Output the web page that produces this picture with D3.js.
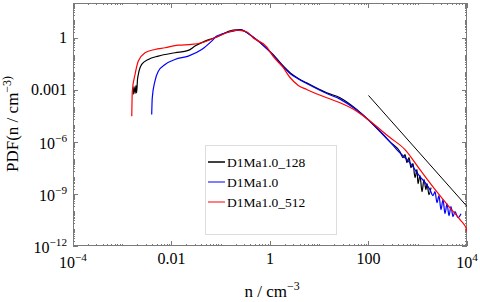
<!DOCTYPE html>
<html>
<head>
<script src="https://cdn.jsdelivr.net/npm/d3@7/dist/d3.min.js"></script>
<style>
  body { margin: 0; background: #fff; }
  text { font-family: "Liberation Serif", "Times New Roman", serif; fill: #000; }
</style>
</head>
<body>
<script>
// ---- data ----
var seriesNames = ["D1Ma1.0_128", "D1Ma1.0", "D1Ma1.0_512"];

var n128 = [1.67e-3, 1.73e-3, 1.82e-3, 1.9e-3, 1.96e-3, 2.04e-3, 2.12e-3, 2.48e-3, 3.38e-3, 5.4e-3, 0.0118, 0.0219, 0.030, 0.048, 0.076, 0.18, 0.246, 0.452, 0.857, 1.15, 1.73, 2.55, 3.76, 5.56, 14.2, 26.4, 57.6, 97.7, 273, 436, 502, 551, 605, 664, 729, 801, 880, 966, 1010, 1110, 1220, 1340, 1470, 1540, 1690, 1860];
var p128 = [5.3e-4, 1.55e-3, 6.1e-4, 1.77e-3, 6.7e-4, 3.9e-3, 7.6e-3, 0.0288, 0.056, 0.087, 0.136, 0.185, 0.33, 0.64, 1.0, 2.75, 2.9, 1.1, 0.24, 0.109, 0.0288, 9.6e-3, 4.5e-3, 2.5e-3, 6.7e-4, 3.45e-4, 7.3e-5, 1.93e-5, 1.0e-6, 2.7e-7, 1.24e-7, 1.85e-7, 6.4e-8, 1.24e-7, 3.3e-8, 5.6e-8, 8.7e-9, 2.5e-8, 3.9e-9, 1.13e-8, 1.35e-9, 6.7e-9, 1.76e-9, 3.9e-9, 9.1e-10, 2.3e-9];

var n256 = [3.96e-3, 4.07e-3, 4.6e-3, 5.4e-3, 7.4e-3, 0.0118, 0.0219, 0.041, 0.0655, 0.083, 0.18, 0.246, 0.452, 0.857, 1.15, 1.73, 2.55, 3.76, 5.56, 14.2, 26.4, 57.6, 97.7, 273, 374, 697, 1110, 1470, 1770, 2040, 2240, 2460, 2700, 2960, 3260, 3570, 3930, 4310, 4730, 5200, 5700, 6560, 7550];
var p256 = [3.75e-5, 3.45e-4, 3.1e-3, 0.0118, 0.0288, 0.056, 0.087, 0.21, 0.64, 1.24, 2.4, 2.8, 1.1, 0.24, 0.10, 0.027, 8.7e-3, 4.2e-3, 2.3e-3, 6.1e-4, 2.9e-4, 6.8e-5, 1.93e-5, 1.0e-6, 3.6e-7, 6.1e-8, 1.0e-8, 3.9e-9, 1.76e-9, 7.9e-10, 1.35e-9, 3.1e-10, 7.9e-10, 1.24e-10, 4.7e-10, 7.3e-11, 2.7e-10, 5.6e-11, 1.84e-10, 4.9e-11, 9.5e-11, 4.3e-11, 7.3e-11];

var n512 = [1.56e-3, 1.6e-3, 1.82e-3, 2.12e-3, 2.9e-3, 4.6e-3, 7.4e-3, 0.0137, 0.0257, 0.041, 0.076, 0.132, 0.211, 0.336, 0.452, 0.857, 1.15, 1.84, 2.55, 3.76, 5.56, 14.2, 26.4, 57.6, 97.7, 273, 551, 1110, 2430, 4520, 7210, 9860, 11000];
var p512 = [3.0e-5, 8.3e-4, 7.7e-3, 0.045, 0.136, 0.21, 0.265, 0.374, 0.41, 0.51, 1.0, 1.94, 2.75, 2.22, 1.0, 0.3, 0.087, 0.0194, 5.1e-3, 1.77e-3, 1.04e-3, 3.45e-4, 1.78e-4, 5.8e-5, 1.93e-5, 1.77e-6, 3.6e-7, 2.5e-8, 1.35e-9, 1.55e-10, 3.3e-11, 8.7e-12, 2.5e-12];

var slopeN = [100, 1e4];
var slopeP = [4.7e-4, 1.9e-10];

var xTicks = [1e-4, 1e-2, 1, 100, 1e4];
var xTickLabels = ["10^−4", "0.01", "1", "100", "10^4"];
var yTicks = [1e-12, 1e-9, 1e-6, 1e-3, 1];
var yTickLabels = ["10^−12", "10^−9", "10^−6", "0.001", "1"];

// ---- layout ----
var w = 480, h = 302;
var margin = { top: 3, right: 13, bottom: 56, left: 73 };
var axisColor = "#7a7a7a";

var svg = d3.select("body").append("svg")
    .attr("width", w)
    .attr("height", h);

var xScale = d3.scaleLog().domain([1e-4, 1e4]).range([margin.left, w - margin.right]);
var yScale = d3.scaleLog().domain([1e-12, 100]).range([h - margin.bottom, margin.top]);

var x0 = xScale.range()[0], x1 = xScale.range()[1];
var y0 = yScale.range()[0], y1 = yScale.range()[1];

svg.append("clipPath").attr("id", "clip")
  .append("rect")
    .attr("x", x0).attr("y", y1)
    .attr("width", x1 - x0).attr("height", y0 - y1);

// minor tick positions (every 1..9 x 10^k that is not a major tick)
function minorTicks(domain, majors) {
  var out = [];
  var lo = Math.round(Math.log10(domain[0])), hi = Math.round(Math.log10(domain[1]));
  for (var k = lo; k < hi; k++) {
    for (var m = 1; m < 10; m++) {
      var v = m * Math.pow(10, k);
      if (!majors.some(function (t) { return Math.abs(Math.log10(t) - Math.log10(v)) < 1e-9; })) out.push(v);
    }
  }
  return out;
}
var xMinor = minorTicks(xScale.domain(), xTicks);
var yMinor = minorTicks(yScale.domain(), yTicks);

// ---- axes box + ticks ----
var ax = svg.append("g").attr("stroke", axisColor).attr("stroke-width", 1).attr("fill", "none");
ax.append("rect")
  .attr("x", x0 + 0.5).attr("y", y1 + 0.5)
  .attr("width", x1 - x0 - 1).attr("height", y0 - y1 - 1);

function xTick(v, len) {
  var x = Math.round(xScale(v)) + 0.5;
  ax.append("line").attr("x1", x).attr("x2", x).attr("y1", y0).attr("y2", y0 - len);
  ax.append("line").attr("x1", x).attr("x2", x).attr("y1", y1).attr("y2", y1 + len);
}
function yTick(v, len) {
  var y = Math.round(yScale(v)) + 0.5;
  ax.append("line").attr("y1", y).attr("y2", y).attr("x1", x0).attr("x2", x0 + len);
  ax.append("line").attr("y1", y).attr("y2", y).attr("x1", x1).attr("x2", x1 - len);
}
xMinor.forEach(function (v) { xTick(v, 2); });
xTicks.forEach(function (v) { xTick(v, 5); });
yMinor.forEach(function (v) { yTick(v, 2); });
yTicks.forEach(function (v) { yTick(v, 5); });

// label with optional superscript "base^sup"
function addLabel(g, str, x, y, anchor, size) {
  var parts = str.split("^");
  var t = g.append("text")
    .attr("x", x).attr("y", y)
    .attr("text-anchor", anchor)
    .style("font-size", size + "px");
  t.append("tspan").text(parts[0]);
  if (parts.length > 1) {
    t.append("tspan").attr("dy", -size * 0.42).style("font-size", (size * 0.7) + "px").text(parts[1]);
  }
  return t;
}

var labels = svg.append("g");
xTicks.forEach(function (v, i) {
  var s = xTickLabels[i];
  addLabel(labels, s, xScale(v), y0 + (s.indexOf("^") >= 0 ? 22 : 18), "middle", 16);
});
yTicks.forEach(function (v, i) {
  var s = yTickLabels[i];
  addLabel(labels, s, x0 - 6, yScale(v) + (s.indexOf("^") >= 0 ? 7 : 5), "end", 16);
});

// axis titles
addLabel(svg, "n / cm^−3", 272, 297, "middle", 17);
var yt = addLabel(svg, "PDF(n / cm^−3)", 0, 0, "middle", 17);
yt.attr("transform", "translate(18," + 124 + ") rotate(-90)");

// ---- curves ----
var line = d3.line()
    .curve(d3.curveMonotoneX)
    .x(function (d) { return xScale(d[0]); })
    .y(function (d) { return yScale(d[1]); });

var series = [
  { n: n128, p: p128, color: "#000000" },
  { n: n256, p: p256, color: "#0000ff" },
  { n: n512, p: p512, color: "#ff0000" }
];

var plot = svg.append("g").attr("clip-path", "url(#clip)");
series.forEach(function (s) {
  plot.append("path")
    .datum(d3.zip(s.n, s.p))
    .attr("fill", "none")
    .attr("stroke", s.color)
    .attr("stroke-width", 1.2)
    .attr("stroke-linejoin", "round")
    .attr("d", line);
});

plot.append("path")
  .datum(d3.zip(slopeN, slopeP))
  .attr("fill", "none")
  .attr("stroke", "#000")
  .attr("stroke-width", 1)
  .attr("d", line);

// ---- legend ----
var lg = svg.append("g").attr("transform", "translate(205,145)");
lg.append("rect")
  .attr("x", 0.5).attr("y", 0.5)
  .attr("width", 131).attr("height", 89)
  .attr("fill", "#fff")
  .attr("stroke", "#dddddd");
seriesNames.forEach(function (name, i) {
  var yy = 17 + i * 20;
  lg.append("line")
    .attr("x1", 3).attr("x2", 20)
    .attr("y1", yy).attr("y2", yy)
    .attr("stroke", series[i].color)
    .attr("stroke-width", i === 0 ? 1.5 : 1);
  lg.append("text")
    .attr("x", 22).attr("y", yy + 4.5)
    .style("font-size", "13.5px")
    .text(name);
});
</script>
</body>
</html>
